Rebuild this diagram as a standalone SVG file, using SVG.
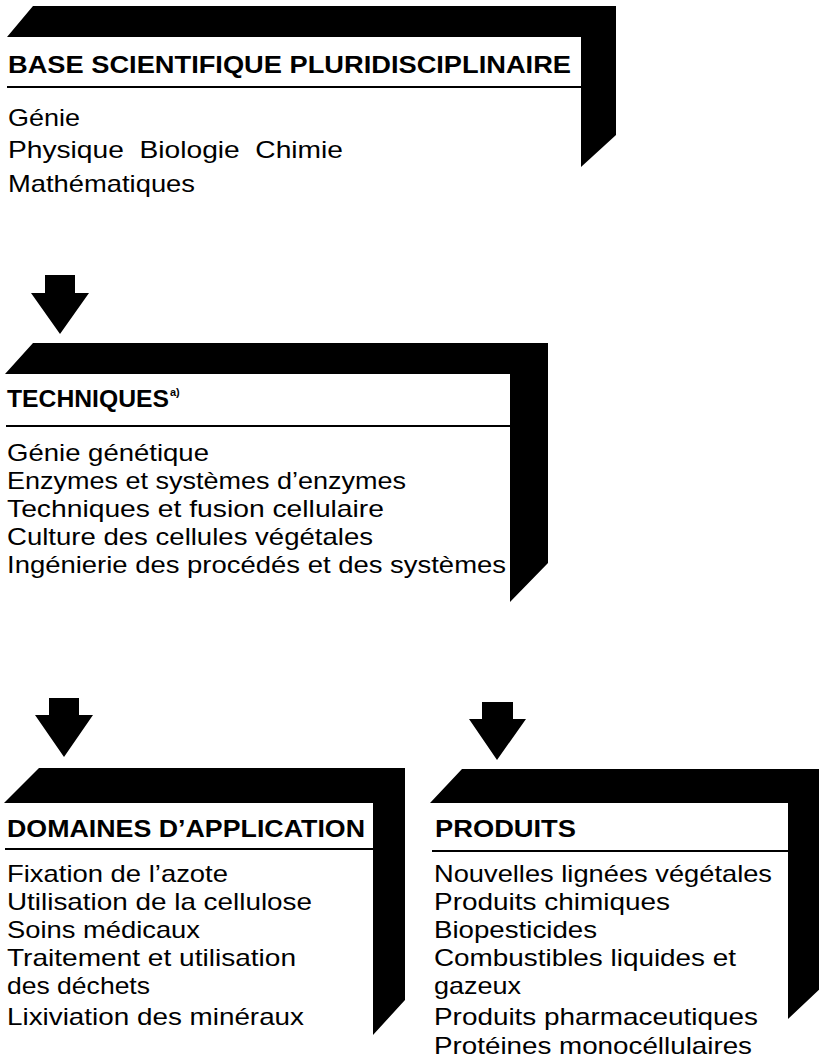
<svg xmlns="http://www.w3.org/2000/svg" width="819" height="1059" viewBox="0 0 819 1059">
<style>
.frame{fill:#000}
.rule{stroke:#000;stroke-width:2.2}
.hd{font-family:"Liberation Sans",Arial,Helvetica,sans-serif;font-weight:bold;font-size:24px;fill:#000}
.tx{font-family:"Liberation Sans",Arial,Helvetica,sans-serif;font-size:24px;fill:#000}
.sup{font-family:"Liberation Sans",Arial,Helvetica,sans-serif;font-weight:bold;font-size:11px;fill:#000}
.arrow{fill:#000}
</style>
<rect width="819" height="1059" fill="#fff"/>
<g id="connectors">
<path class="arrow" d="M45,275 L75,275 L75,293 L89,293 L60,334 L31,293 L45,293 Z"/>
<path class="arrow" d="M49,698 L79,698 L79,715 L93,715 L64,757 L35,715 L49,715 Z"/>
<path class="arrow" d="M482,702 L513,702 L513,719 L526,719 L497,760 L469,719 L482,719 Z"/>
</g>
<g id="base">
<path class="frame" d="M33,6 L616,6 L616,135 L581,167 L581,37 L7,37 Z"/>
<line class="rule" x1="7" y1="87" x2="581" y2="87"/>
<text class="hd" x="8" y="73" textLength="563" lengthAdjust="spacingAndGlyphs">BASE SCIENTIFIQUE PLURIDISCIPLINAIRE</text>
<text class="tx" x="8" y="126" textLength="72" lengthAdjust="spacingAndGlyphs">Génie</text>
<text class="tx" x="8" y="158" textLength="335" lengthAdjust="spacingAndGlyphs" xml:space="preserve">Physique  Biologie  Chimie</text>
<text class="tx" x="8" y="192" textLength="187" lengthAdjust="spacingAndGlyphs">Mathématiques</text>
</g>
<g id="techniques">
<path class="frame" d="M33,343 L548,343 L548,563 L510,602 L510,374 L5,374 Z"/>
<line class="rule" x1="6" y1="426" x2="510" y2="426"/>
<text class="hd" x="7" y="407" textLength="162" lengthAdjust="spacingAndGlyphs">TECHNIQUES</text>
<text class="sup" x="170" y="396">a)</text>
<text class="tx" x="7" y="461" textLength="202" lengthAdjust="spacingAndGlyphs">Génie génétique</text>
<text class="tx" x="7" y="489" textLength="399" lengthAdjust="spacingAndGlyphs">Enzymes et systèmes d’enzymes</text>
<text class="tx" x="7" y="517" textLength="377" lengthAdjust="spacingAndGlyphs">Techniques et fusion cellulaire</text>
<text class="tx" x="7" y="545" textLength="366" lengthAdjust="spacingAndGlyphs">Culture des cellules végétales</text>
<text class="tx" x="7" y="573" textLength="499" lengthAdjust="spacingAndGlyphs">Ingénierie des procédés et des systèmes</text>
</g>
<g id="domaines">
<path class="frame" d="M39,768 L405,768 L405,1000 L373,1035 L373,803 L4,803 Z"/>
<line class="rule" x1="5" y1="849" x2="373" y2="849"/>
<text class="hd" x="7" y="837" textLength="358" lengthAdjust="spacingAndGlyphs">DOMAINES D’APPLICATION</text>
<text class="tx" x="7" y="882" textLength="221" lengthAdjust="spacingAndGlyphs">Fixation de l’azote</text>
<text class="tx" x="7" y="910" textLength="305" lengthAdjust="spacingAndGlyphs">Utilisation de la cellulose</text>
<text class="tx" x="7" y="938" textLength="193" lengthAdjust="spacingAndGlyphs">Soins médicaux</text>
<text class="tx" x="7" y="966" textLength="289" lengthAdjust="spacingAndGlyphs">Traitement et utilisation</text>
<text class="tx" x="7" y="994" textLength="143" lengthAdjust="spacingAndGlyphs">des déchets</text>
<text class="tx" x="7" y="1025" textLength="297" lengthAdjust="spacingAndGlyphs">Lixiviation des minéraux</text>
</g>
<g id="produits">
<path class="frame" d="M462,769 L823,769 L823,986 L788,1019 L788,803 L430,803 Z"/>
<line class="rule" x1="432" y1="851" x2="788" y2="851"/>
<text class="hd" x="435" y="837" textLength="141" lengthAdjust="spacingAndGlyphs">PRODUITS</text>
<text class="tx" x="434" y="882" textLength="338" lengthAdjust="spacingAndGlyphs">Nouvelles lignées végétales</text>
<text class="tx" x="434" y="910" textLength="236" lengthAdjust="spacingAndGlyphs">Produits chimiques</text>
<text class="tx" x="434" y="938" textLength="163" lengthAdjust="spacingAndGlyphs">Biopesticides</text>
<text class="tx" x="434" y="966" textLength="302" lengthAdjust="spacingAndGlyphs">Combustibles liquides et</text>
<text class="tx" x="434" y="994" textLength="87" lengthAdjust="spacingAndGlyphs">gazeux</text>
<text class="tx" x="434" y="1025" textLength="324" lengthAdjust="spacingAndGlyphs">Produits pharmaceutiques</text>
<text class="tx" x="434" y="1054" textLength="318" lengthAdjust="spacingAndGlyphs">Protéines monocéllulaires</text>
</g>
</svg>
